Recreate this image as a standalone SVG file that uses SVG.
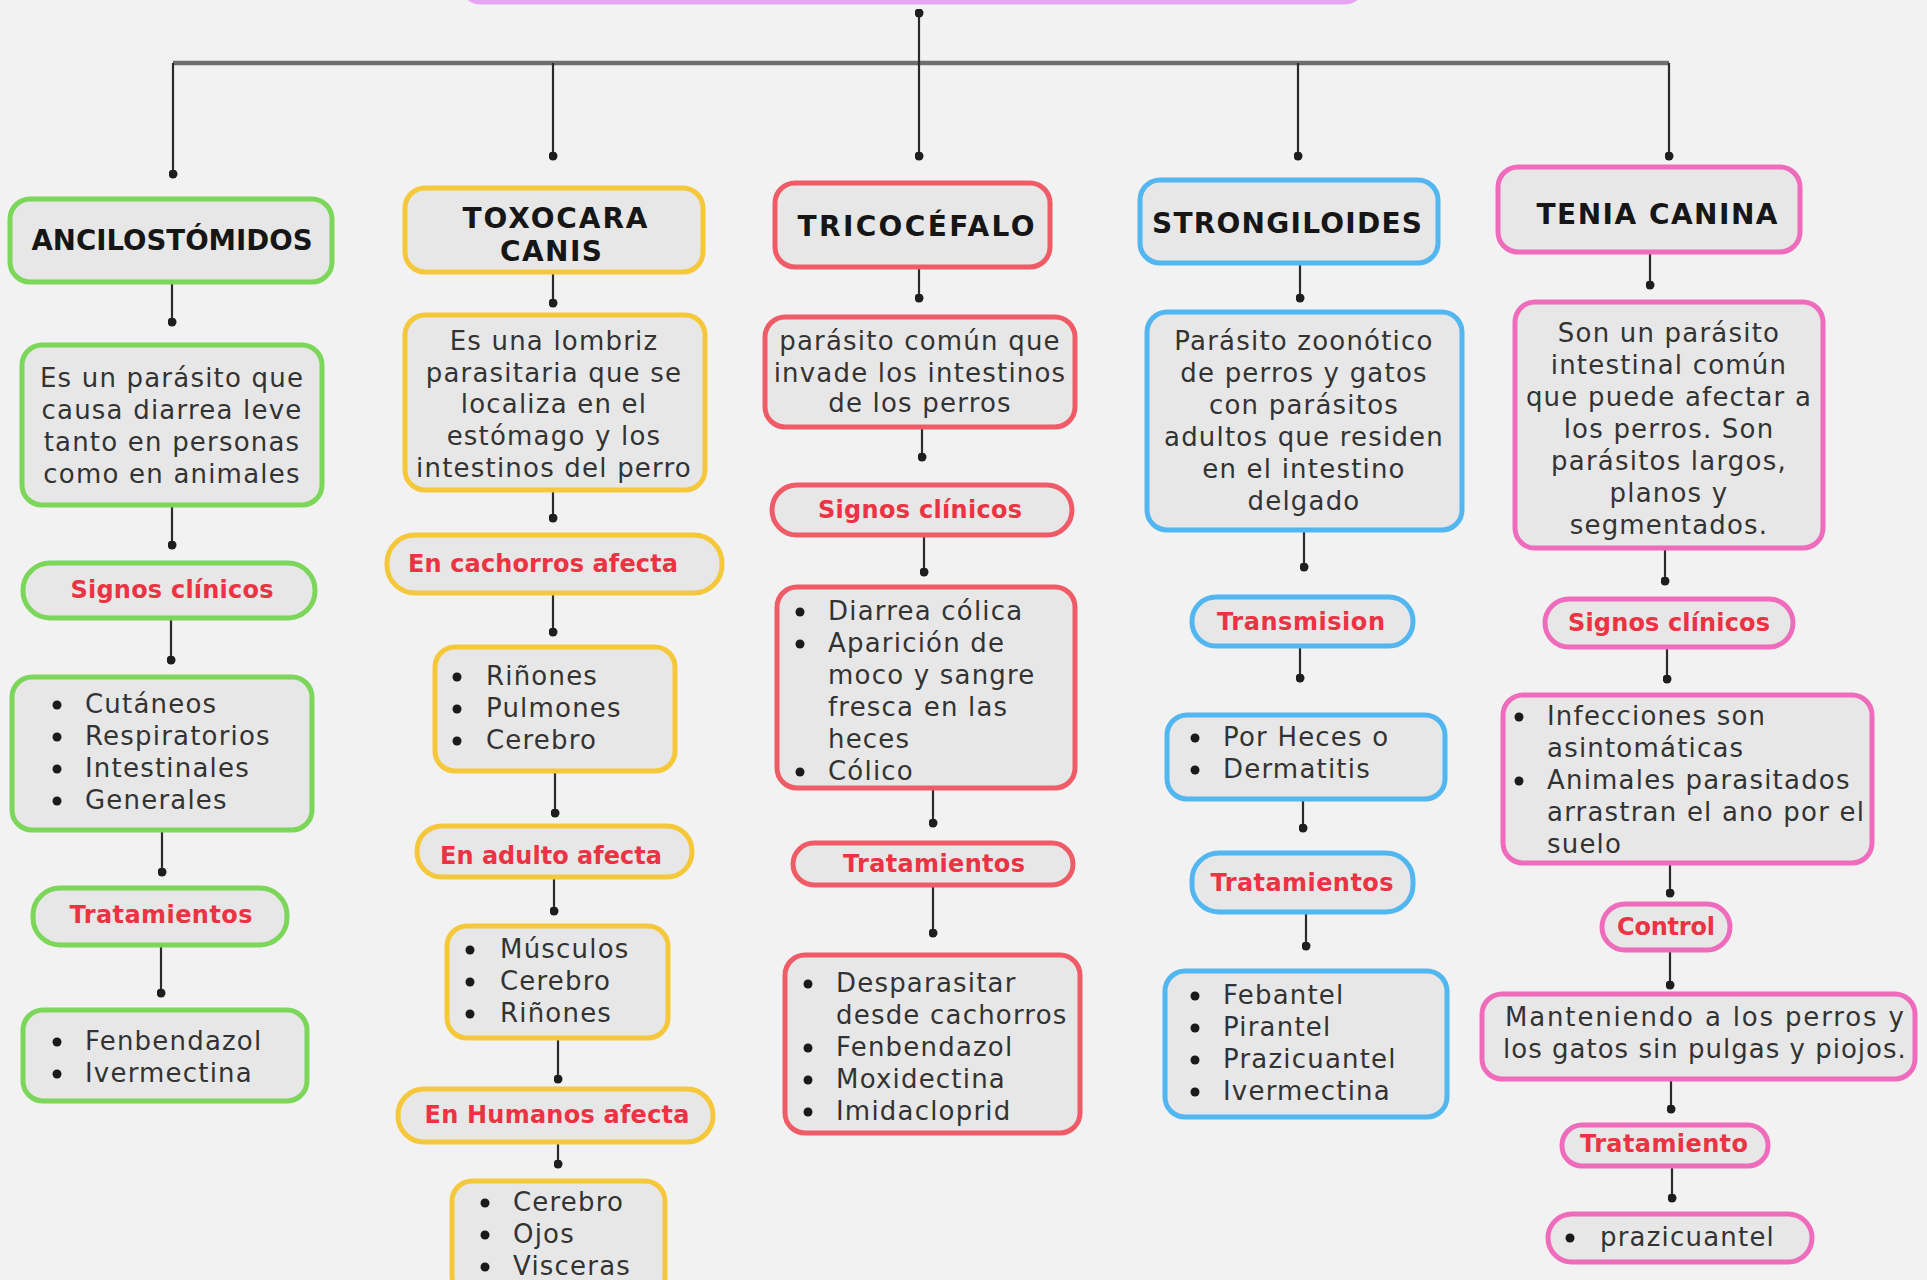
<svg xmlns="http://www.w3.org/2000/svg" width="1927" height="1280" viewBox="0 0 1927 1280">
<style>
.bx{fill:#e7e7e7;stroke-width:5}
.g{stroke:#7cd65a}.y{stroke:#f5c83c}.r{stroke:#ef5b67}.b{stroke:#52b6f0}.p{stroke:#ef6cbc}
text{font-family:"DejaVu Sans","Liberation Sans",sans-serif}
.t{font-size:28px;font-weight:bold;fill:#161616;text-anchor:middle}
.d{font-size:26px;fill:#333333;letter-spacing:1.2px;text-anchor:middle}
.li{font-size:26px;fill:#333333;letter-spacing:1.2px}
.l{font-size:24px;font-weight:bold;fill:#ec3343;text-anchor:middle}
.bu{fill:#1a1a1a}
.c{stroke:#2b2b2b;stroke-width:2.2;fill:none;marker-end:url(#dot)}
</style>
<defs>
<marker id="dot" viewBox="0 0 10 10" refX="5" refY="5" markerWidth="9" markerHeight="9" markerUnits="userSpaceOnUse"><circle cx="5" cy="5" r="5" fill="#1e1e1e"/></marker>
</defs>
<rect x="0" y="0" width="1927" height="1280" fill="#f2f2f2"/>

<g id="top"><rect class="bx" x="461" y="-70" width="903" height="72" rx="20" style="stroke:#e8a4f4"/></g>

<g id="connectors">
<line x1="173" y1="63" x2="1669" y2="63" stroke="#6e6e6e" stroke-width="4.5"/>
<line class="c" x1="919" y1="13" x2="919" y2="156" style="marker-start:url(#dot)"/>
<line class="c" x1="173" y1="63" x2="173" y2="174"/>
<line class="c" x1="553" y1="63" x2="553" y2="156"/>
<line class="c" x1="1298" y1="63" x2="1298" y2="156"/>
<line class="c" x1="1669" y1="63" x2="1669" y2="156"/>
<line class="c" x1="172" y1="284" x2="172" y2="322"/>
<line class="c" x1="172" y1="506" x2="172" y2="545"/>
<line class="c" x1="171" y1="619" x2="171" y2="660"/>
<line class="c" x1="162" y1="831" x2="162" y2="872"/>
<line class="c" x1="161" y1="946" x2="161" y2="993"/>
<line class="c" x1="553" y1="273" x2="553" y2="303"/>
<line class="c" x1="553" y1="491" x2="553" y2="518"/>
<line class="c" x1="553" y1="594" x2="553" y2="632"/>
<line class="c" x1="555" y1="772" x2="555" y2="813"/>
<line class="c" x1="554" y1="878" x2="554" y2="911"/>
<line class="c" x1="558" y1="1039" x2="558" y2="1079"/>
<line class="c" x1="558" y1="1143" x2="558" y2="1164"/>
<line class="c" x1="919" y1="268" x2="919" y2="298"/>
<line class="c" x1="922" y1="428" x2="922" y2="457"/>
<line class="c" x1="924" y1="536" x2="924" y2="572"/>
<line class="c" x1="933" y1="789" x2="933" y2="823"/>
<line class="c" x1="933" y1="886" x2="933" y2="933"/>
<line class="c" x1="1300" y1="264" x2="1300" y2="298"/>
<line class="c" x1="1304" y1="531" x2="1304" y2="567"/>
<line class="c" x1="1300" y1="647" x2="1300" y2="678"/>
<line class="c" x1="1303" y1="800" x2="1303" y2="828"/>
<line class="c" x1="1306" y1="913" x2="1306" y2="946"/>
<line class="c" x1="1650" y1="253" x2="1650" y2="285"/>
<line class="c" x1="1665" y1="549" x2="1665" y2="581"/>
<line class="c" x1="1667" y1="648" x2="1667" y2="679"/>
<line class="c" x1="1670" y1="864" x2="1670" y2="893"/>
<line class="c" x1="1670" y1="951" x2="1670" y2="985"/>
<line class="c" x1="1671" y1="1080" x2="1671" y2="1109"/>
<line class="c" x1="1672" y1="1167" x2="1672" y2="1198"/>
</g>

<g id="ancilostomidos"><rect class="bx g" x="10" y="199" width="322" height="83" rx="20"/><text class="t" x="172" y="250" textLength="281" lengthAdjust="spacingAndGlyphs">ANCILOSTÓMIDOS</text></g>
<g id="ancilo-desc"><rect class="bx g" x="22" y="345" width="300" height="160" rx="20"/>
<text class="d" x="172" y="387">Es un parásito que</text><text class="d" x="172" y="419">causa diarrea leve</text><text class="d" x="172" y="451">tanto en personas</text><text class="d" x="172" y="483">como en animales</text></g>
<g id="ancilo-signos"><rect class="bx g" x="23" y="563" width="292" height="55" rx="27"/><text class="l" x="172" y="598" textLength="203" lengthAdjust="spacing">Signos clínicos</text></g>
<g id="ancilo-lista"><rect class="bx g" x="12" y="677" width="300" height="153" rx="20"/>
<circle class="bu" cx="57" cy="705" r="4.5"/><circle class="bu" cx="57" cy="737" r="4.5"/><circle class="bu" cx="57" cy="769" r="4.5"/><circle class="bu" cx="57" cy="801" r="4.5"/>
<text class="li" x="85" y="713">Cutáneos</text><text class="li" x="85" y="745">Respiratorios</text><text class="li" x="85" y="777">Intestinales</text><text class="li" x="85" y="809">Generales</text></g>
<g id="ancilo-trat"><rect class="bx g" x="33" y="888" width="254" height="57" rx="27"/><text class="l" x="161" y="923" textLength="183" lengthAdjust="spacing">Tratamientos</text></g>
<g id="ancilo-trat-lista"><rect class="bx g" x="23" y="1010" width="284" height="91" rx="20"/>
<circle class="bu" cx="57" cy="1042" r="4.5"/><circle class="bu" cx="57" cy="1074" r="4.5"/>
<text class="li" x="85" y="1050">Fenbendazol</text><text class="li" x="85" y="1082">Ivermectina</text></g>

<g id="toxocara"><rect class="bx y" x="405" y="188" width="298" height="84" rx="20"/><text class="t" x="555" y="228" textLength="185" lengthAdjust="spacing">TOXOCARA</text><text class="t" x="551" y="261" textLength="102" lengthAdjust="spacing">CANIS</text></g>
<g id="toxo-desc"><rect class="bx y" x="405" y="315" width="300" height="175" rx="20"/>
<text class="d" x="554" y="350">Es una lombriz</text><text class="d" x="554" y="382">parasitaria que se</text><text class="d" x="554" y="413">localiza en el</text><text class="d" x="554" y="445">estómago y los</text><text class="d" x="554" y="477">intestinos del perro</text></g>
<g id="toxo-cachorros"><rect class="bx y" x="387" y="535" width="335" height="58" rx="28"/><text class="l" x="543" y="572" textLength="270" lengthAdjust="spacing">En cachorros afecta</text></g>
<g id="toxo-lista1"><rect class="bx y" x="435" y="647" width="240" height="124" rx="20"/>
<circle class="bu" cx="457" cy="677" r="4.5"/><circle class="bu" cx="457" cy="709" r="4.5"/><circle class="bu" cx="457" cy="741" r="4.5"/>
<text class="li" x="486" y="685">Riñones</text><text class="li" x="486" y="717">Pulmones</text><text class="li" x="486" y="749">Cerebro</text></g>
<g id="toxo-adulto"><rect class="bx y" x="417" y="826" width="275" height="51" rx="25"/><text class="l" x="551" y="864" textLength="222" lengthAdjust="spacing">En adulto afecta</text></g>
<g id="toxo-lista2"><rect class="bx y" x="447" y="926" width="221" height="112" rx="20"/>
<circle class="bu" cx="470" cy="950" r="4.5"/><circle class="bu" cx="470" cy="982" r="4.5"/><circle class="bu" cx="470" cy="1014" r="4.5"/>
<text class="li" x="500" y="958">Músculos</text><text class="li" x="500" y="990">Cerebro</text><text class="li" x="500" y="1022">Riñones</text></g>
<g id="toxo-humanos"><rect class="bx y" x="398" y="1089" width="315" height="53" rx="26"/><text class="l" x="557" y="1123" textLength="265" lengthAdjust="spacing">En Humanos afecta</text></g>
<g id="toxo-lista3"><rect class="bx y" x="452" y="1181" width="213" height="115" rx="20"/>
<circle class="bu" cx="485" cy="1203" r="4.5"/><circle class="bu" cx="485" cy="1235" r="4.5"/><circle class="bu" cx="485" cy="1267" r="4.5"/>
<text class="li" x="513" y="1211">Cerebro</text><text class="li" x="513" y="1243">Ojos</text><text class="li" x="513" y="1275">Visceras</text></g>

<g id="tricocefalo"><rect class="bx r" x="775" y="183" width="275" height="84" rx="20"/><text class="t" x="916" y="236" textLength="237" lengthAdjust="spacing">TRICOCÉFALO</text></g>
<g id="trico-desc"><rect class="bx r" x="765" y="317" width="310" height="110" rx="20"/>
<text class="d" x="920" y="350">parásito común que</text><text class="d" x="920" y="382">invade los intestinos</text><text class="d" x="920" y="412">de los perros</text></g>
<g id="trico-signos"><rect class="bx r" x="772" y="485" width="300" height="50" rx="25"/><text class="l" x="920" y="518" textLength="204" lengthAdjust="spacing">Signos clínicos</text></g>
<g id="trico-lista"><rect class="bx r" x="777" y="587" width="298" height="201" rx="20"/>
<circle class="bu" cx="800" cy="612" r="4.5"/><circle class="bu" cx="800" cy="644" r="4.5"/><circle class="bu" cx="800" cy="772" r="4.5"/>
<text class="li" x="828" y="620">Diarrea cólica</text><text class="li" x="828" y="652">Aparición de</text><text class="li" x="828" y="684">moco y sangre</text><text class="li" x="828" y="716">fresca en las</text><text class="li" x="828" y="748">heces</text><text class="li" x="828" y="780">Cólico</text></g>
<g id="trico-trat"><rect class="bx r" x="793" y="843" width="280" height="42" rx="21"/><text class="l" x="934" y="872" textLength="182" lengthAdjust="spacing">Tratamientos</text></g>
<g id="trico-trat-lista"><rect class="bx r" x="785" y="955" width="295" height="178" rx="20"/>
<circle class="bu" cx="808" cy="984" r="4.5"/><circle class="bu" cx="808" cy="1048" r="4.5"/><circle class="bu" cx="808" cy="1080" r="4.5"/><circle class="bu" cx="808" cy="1112" r="4.5"/>
<text class="li" x="836" y="992">Desparasitar</text><text class="li" x="836" y="1024">desde cachorros</text><text class="li" x="836" y="1056">Fenbendazol</text><text class="li" x="836" y="1088">Moxidectina</text><text class="li" x="836" y="1120">Imidacloprid</text></g>

<g id="strongiloides"><rect class="bx b" x="1140" y="180" width="298" height="83" rx="20"/><text class="t" x="1287" y="233" textLength="270" lengthAdjust="spacing">STRONGILOIDES</text></g>
<g id="strong-desc"><rect class="bx b" x="1147" y="312" width="315" height="218" rx="20"/>
<text class="d" x="1304" y="350">Parásito zoonótico</text><text class="d" x="1304" y="382">de perros y gatos</text><text class="d" x="1304" y="414">con parásitos</text><text class="d" x="1304" y="446">adultos que residen</text><text class="d" x="1304" y="478">en el intestino</text><text class="d" x="1304" y="510">delgado</text></g>
<g id="strong-trans"><rect class="bx b" x="1192" y="597" width="221" height="49" rx="24"/><text class="l" x="1301" y="630" textLength="168" lengthAdjust="spacing">Transmision</text></g>
<g id="strong-lista1"><rect class="bx b" x="1167" y="715" width="278" height="84" rx="20"/>
<circle class="bu" cx="1195" cy="738" r="4.5"/><circle class="bu" cx="1195" cy="770" r="4.5"/>
<text class="li" x="1223" y="746">Por Heces o</text><text class="li" x="1223" y="778">Dermatitis</text></g>
<g id="strong-trat"><rect class="bx b" x="1192" y="853" width="221" height="59" rx="27"/><text class="l" x="1302" y="891" textLength="183" lengthAdjust="spacing">Tratamientos</text></g>
<g id="strong-lista2"><rect class="bx b" x="1165" y="971" width="282" height="146" rx="20"/>
<circle class="bu" cx="1195" cy="996" r="4.5"/><circle class="bu" cx="1195" cy="1028" r="4.5"/><circle class="bu" cx="1195" cy="1060" r="4.5"/><circle class="bu" cx="1195" cy="1092" r="4.5"/>
<text class="li" x="1223" y="1004">Febantel</text><text class="li" x="1223" y="1036">Pirantel</text><text class="li" x="1223" y="1068">Prazicuantel</text><text class="li" x="1223" y="1100">Ivermectina</text></g>

<g id="tenia"><rect class="bx p" x="1498" y="167" width="302" height="85" rx="20"/><text class="t" x="1657" y="224" textLength="241" lengthAdjust="spacing">TENIA CANINA</text></g>
<g id="tenia-desc"><rect class="bx p" x="1515" y="302" width="308" height="246" rx="20"/>
<text class="d" x="1669" y="342">Son un parásito</text><text class="d" x="1669" y="374">intestinal común</text><text class="d" x="1669" y="406">que puede afectar a</text><text class="d" x="1669" y="438">los perros. Son</text><text class="d" x="1669" y="470">parásitos largos,</text><text class="d" x="1669" y="502">planos y</text><text class="d" x="1669" y="534">segmentados.</text></g>
<g id="tenia-signos"><rect class="bx p" x="1545" y="599" width="248" height="48" rx="24"/><text class="l" x="1669" y="631" textLength="202" lengthAdjust="spacing">Signos clínicos</text></g>
<g id="tenia-lista"><rect class="bx p" x="1503" y="695" width="369" height="168" rx="20"/>
<circle class="bu" cx="1519" cy="717" r="4.5"/><circle class="bu" cx="1519" cy="781" r="4.5"/>
<text class="li" x="1547" y="725">Infecciones son</text><text class="li" x="1547" y="757">asintomáticas</text><text class="li" x="1547" y="789">Animales parasitados</text><text class="li" x="1547" y="821">arrastran el ano por el</text><text class="li" x="1547" y="853">suelo</text></g>
<g id="tenia-control"><rect class="bx p" x="1602" y="904" width="128" height="46" rx="23"/><text class="l" x="1666" y="935" textLength="98" lengthAdjust="spacing">Control</text></g>
<g id="tenia-mant"><rect class="bx p" x="1482" y="994" width="433" height="85" rx="20"/>
<text class="d" x="1705" y="1026" textLength="400" lengthAdjust="spacing">Manteniendo a los perros y</text><text class="d" x="1705" y="1058" textLength="404" lengthAdjust="spacing">los gatos sin pulgas y piojos.</text></g>
<g id="tenia-trat"><rect class="bx p" x="1562" y="1125" width="206" height="41" rx="20"/><text class="l" x="1664" y="1152" textLength="168" lengthAdjust="spacing">Tratamiento</text></g>
<g id="tenia-praz"><rect class="bx p" x="1548" y="1214" width="264" height="48" rx="24"/>
<circle class="bu" cx="1570" cy="1238" r="4.5"/><text class="li" x="1600" y="1246">prazicuantel</text></g>
</svg>
